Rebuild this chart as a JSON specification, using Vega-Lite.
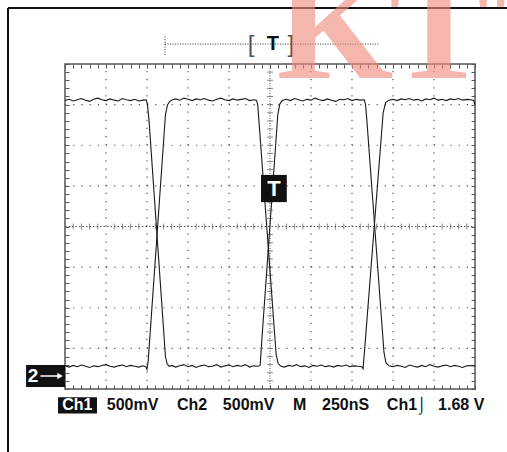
{
  "$schema": "https://vega.github.io/schema/vega-lite/v6.json",
  "width": 410,
  "height": 325,
  "autosize": {"type": "none"},
  "padding": {"left": 65, "top": 64, "right": 32, "bottom": 63},
  "background": "white",
  "config": {
    "view": {"stroke": "#555", "strokeWidth": 1.5},
    "axis": {"labels": false, "title": null, "domain": false, "grid": false, "ticks": true, "tickColor": "#555", "tickSize": -4, "tickWidth": 1}
  },
  "resolve": {"axis": {"x": "independent", "y": "independent"}},
  "layer": [
    {
      "data": {"values": [{"v": 1}, {"v": 2}, {"v": 3}, {"v": 4}, {"v": 6}, {"v": 7}, {"v": 8}, {"v": 9}]},
      "mark": {"type": "rule", "color": "#555", "strokeWidth": 1.2, "strokeDash": [1.2, 6.925]},
      "encoding": {
        "x": {"field": "v", "type": "quantitative", "scale": {"domain": [0, 10], "nice": false, "zero": false}, "axis": {"orient": "bottom", "tickCount": 50}},
        "y": {"datum": -4, "type": "quantitative", "scale": {"domain": [-4, 4], "nice": false, "zero": false}, "axis": {"orient": "left", "tickCount": 40}},
        "y2": {"datum": 4}
      }
    },
    {
      "data": {"values": [{"v": -3}, {"v": -2}, {"v": -1}, {"v": 1}, {"v": 2}, {"v": 3}]},
      "mark": {"type": "rule", "color": "#555", "strokeWidth": 1.2, "strokeDash": [1.2, 7.0]},
      "encoding": {
        "y": {"field": "v", "type": "quantitative", "scale": {"domain": [-4, 4], "nice": false, "zero": false}, "axis": {"orient": "right", "tickCount": 40}},
        "x": {"datum": 0, "type": "quantitative", "scale": {"domain": [0, 10], "nice": false, "zero": false}, "axis": {"orient": "top", "tickCount": 50}},
        "x2": {"datum": 10}
      }
    },
    {
      "data": {"values": [{"v": 5}]},
      "mark": {"type": "rule", "color": "#555", "strokeWidth": 1, "strokeDash": [1, 1.5]},
      "encoding": {
        "x": {"field": "v", "type": "quantitative", "scale": {"domain": [0, 10], "nice": false, "zero": false}, "axis": null},
        "y": {"datum": -4, "type": "quantitative", "scale": {"domain": [-4, 4], "nice": false, "zero": false}, "axis": null},
        "y2": {"datum": 4}
      }
    },
    {
      "data": {"values": [{"v": 0}]},
      "mark": {"type": "rule", "color": "#555", "strokeWidth": 1, "strokeDash": [1.5, 2]},
      "encoding": {
        "y": {"field": "v", "type": "quantitative", "scale": {"domain": [-4, 4], "nice": false, "zero": false}, "axis": null},
        "x": {"datum": 0, "type": "quantitative", "scale": {"domain": [0, 10], "nice": false, "zero": false}, "axis": null},
        "x2": {"datum": 10}
      }
    },
    {
      "data": {"values": [{"v": -3.8}, {"v": -3.6}, {"v": -3.4}, {"v": -3.2}, {"v": -3.0}, {"v": -2.8}, {"v": -2.6}, {"v": -2.4}, {"v": -2.2}, {"v": -2.0}, {"v": -1.8}, {"v": -1.6}, {"v": -1.4}, {"v": -1.2}, {"v": -1.0}, {"v": -0.8}, {"v": -0.6}, {"v": -0.4}, {"v": -0.2}, {"v": 0.2}, {"v": 0.4}, {"v": 0.6}, {"v": 0.8}, {"v": 1.0}, {"v": 1.2}, {"v": 1.4}, {"v": 1.6}, {"v": 1.8}, {"v": 2.0}, {"v": 2.2}, {"v": 2.4}, {"v": 2.6}, {"v": 2.8}, {"v": 3.0}, {"v": 3.2}, {"v": 3.4}, {"v": 3.6}, {"v": 3.8}]},
      "mark": {"type": "tick", "orient": "horizontal", "size": 6, "thickness": 1, "color": "#555"},
      "encoding": {
        "y": {"field": "v", "type": "quantitative", "scale": {"domain": [-4, 4], "nice": false, "zero": false}, "axis": null},
        "x": {"datum": 5, "type": "quantitative", "scale": {"domain": [0, 10], "nice": false, "zero": false}, "axis": null}
      }
    },
    {
      "data": {"values": [{"v": 0.2}, {"v": 0.4}, {"v": 0.6}, {"v": 0.8}, {"v": 1.2}, {"v": 1.4}, {"v": 1.6}, {"v": 1.8}, {"v": 2.2}, {"v": 2.4}, {"v": 2.6}, {"v": 2.8}, {"v": 3.2}, {"v": 3.4}, {"v": 3.6}, {"v": 3.8}, {"v": 4.2}, {"v": 4.4}, {"v": 4.6}, {"v": 4.8}, {"v": 5.2}, {"v": 5.4}, {"v": 5.6}, {"v": 5.8}, {"v": 6.2}, {"v": 6.4}, {"v": 6.6}, {"v": 6.8}, {"v": 7.2}, {"v": 7.4}, {"v": 7.6}, {"v": 7.8}, {"v": 8.2}, {"v": 8.4}, {"v": 8.6}, {"v": 8.8}, {"v": 9.2}, {"v": 9.4}, {"v": 9.6}, {"v": 9.8}]},
      "mark": {"type": "tick", "orient": "vertical", "size": 6, "thickness": 1, "color": "#555"},
      "encoding": {
        "x": {"field": "v", "type": "quantitative", "scale": {"domain": [0, 10], "nice": false, "zero": false}, "axis": null},
        "y": {"datum": 0, "type": "quantitative", "scale": {"domain": [-4, 4], "nice": false, "zero": false}, "axis": null}
      }
    },
    {
      "data": {"values": [
        {"s": "a", "x": 0.0, "y": 3.10}, {"s": "a", "x": 0.1, "y": 3.13}, {"s": "a", "x": 0.2, "y": 3.09}, {"s": "a", "x": 0.3, "y": 3.12}, {"s": "a", "x": 0.4, "y": 3.15}, {"s": "a", "x": 0.5, "y": 3.11}, {"s": "a", "x": 0.6, "y": 3.08}, {"s": "a", "x": 0.7, "y": 3.13}, {"s": "a", "x": 0.8, "y": 3.16}, {"s": "a", "x": 0.9, "y": 3.12}, {"s": "a", "x": 1.0, "y": 3.10}, {"s": "a", "x": 1.1, "y": 3.14}, {"s": "a", "x": 1.2, "y": 3.11}, {"s": "a", "x": 1.3, "y": 3.09}, {"s": "a", "x": 1.4, "y": 3.15}, {"s": "a", "x": 1.5, "y": 3.12}, {"s": "a", "x": 1.6, "y": 3.10}, {"s": "a", "x": 1.7, "y": 3.13}, {"s": "a", "x": 1.8, "y": 3.09}, {"s": "a", "x": 1.9, "y": 3.11}, {"s": "a", "x": 1.98, "y": 3.12},
        {"s": "a", "x": 2.01, "y": 3.02}, {"s": "a", "x": 2.05, "y": 2.6}, {"s": "a", "x": 2.45, "y": -3.2}, {"s": "a", "x": 2.49, "y": -3.38}, {"s": "a", "x": 2.54, "y": -3.44},
        {"s": "a", "x": 2.6, "y": -3.42}, {"s": "a", "x": 2.7, "y": -3.46}, {"s": "a", "x": 2.8, "y": -3.43}, {"s": "a", "x": 2.9, "y": -3.40}, {"s": "a", "x": 3.0, "y": -3.45}, {"s": "a", "x": 3.1, "y": -3.42}, {"s": "a", "x": 3.2, "y": -3.47}, {"s": "a", "x": 3.3, "y": -3.43}, {"s": "a", "x": 3.4, "y": -3.41}, {"s": "a", "x": 3.5, "y": -3.45}, {"s": "a", "x": 3.6, "y": -3.44}, {"s": "a", "x": 3.7, "y": -3.40}, {"s": "a", "x": 3.8, "y": -3.46}, {"s": "a", "x": 3.9, "y": -3.43}, {"s": "a", "x": 4.0, "y": -3.41}, {"s": "a", "x": 4.1, "y": -3.45}, {"s": "a", "x": 4.2, "y": -3.42}, {"s": "a", "x": 4.3, "y": -3.44}, {"s": "a", "x": 4.4, "y": -3.40}, {"s": "a", "x": 4.5, "y": -3.46}, {"s": "a", "x": 4.6, "y": -3.43}, {"s": "a", "x": 4.7, "y": -3.44},
        {"s": "a", "x": 4.76, "y": -3.42}, {"s": "a", "x": 4.79, "y": -2.95}, {"s": "a", "x": 5.19, "y": 2.75}, {"s": "a", "x": 5.24, "y": 3.02}, {"s": "a", "x": 5.3, "y": 3.10},
        {"s": "a", "x": 5.4, "y": 3.13}, {"s": "a", "x": 5.5, "y": 3.10}, {"s": "a", "x": 5.6, "y": 3.15}, {"s": "a", "x": 5.7, "y": 3.12}, {"s": "a", "x": 5.8, "y": 3.09}, {"s": "a", "x": 5.9, "y": 3.13}, {"s": "a", "x": 6.0, "y": 3.11}, {"s": "a", "x": 6.1, "y": 3.16}, {"s": "a", "x": 6.2, "y": 3.12}, {"s": "a", "x": 6.3, "y": 3.10}, {"s": "a", "x": 6.4, "y": 3.14}, {"s": "a", "x": 6.5, "y": 3.11}, {"s": "a", "x": 6.6, "y": 3.08}, {"s": "a", "x": 6.7, "y": 3.13}, {"s": "a", "x": 6.8, "y": 3.12}, {"s": "a", "x": 6.9, "y": 3.15}, {"s": "a", "x": 7.0, "y": 3.10}, {"s": "a", "x": 7.1, "y": 3.13}, {"s": "a", "x": 7.2, "y": 3.11}, {"s": "a", "x": 7.3, "y": 3.12},
        {"s": "a", "x": 7.33, "y": 3.0}, {"s": "a", "x": 7.36, "y": 2.65}, {"s": "a", "x": 7.78, "y": -3.1}, {"s": "a", "x": 7.83, "y": -3.36}, {"s": "a", "x": 7.9, "y": -3.43},
        {"s": "a", "x": 8.0, "y": -3.45}, {"s": "a", "x": 8.1, "y": -3.42}, {"s": "a", "x": 8.2, "y": -3.44}, {"s": "a", "x": 8.3, "y": -3.47}, {"s": "a", "x": 8.4, "y": -3.41}, {"s": "a", "x": 8.5, "y": -3.44}, {"s": "a", "x": 8.6, "y": -3.46}, {"s": "a", "x": 8.7, "y": -3.42}, {"s": "a", "x": 8.8, "y": -3.45}, {"s": "a", "x": 8.9, "y": -3.40}, {"s": "a", "x": 9.0, "y": -3.44}, {"s": "a", "x": 9.1, "y": -3.46}, {"s": "a", "x": 9.2, "y": -3.43}, {"s": "a", "x": 9.3, "y": -3.41}, {"s": "a", "x": 9.4, "y": -3.45}, {"s": "a", "x": 9.5, "y": -3.42}, {"s": "a", "x": 9.6, "y": -3.44}, {"s": "a", "x": 9.7, "y": -3.47}, {"s": "a", "x": 9.8, "y": -3.43}, {"s": "a", "x": 9.9, "y": -3.42}, {"s": "a", "x": 10.0, "y": -3.44},
        {"s": "b", "x": 0.0, "y": -3.43}, {"s": "b", "x": 0.1, "y": -3.46}, {"s": "b", "x": 0.2, "y": -3.42}, {"s": "b", "x": 0.3, "y": -3.45}, {"s": "b", "x": 0.4, "y": -3.41}, {"s": "b", "x": 0.5, "y": -3.44}, {"s": "b", "x": 0.6, "y": -3.47}, {"s": "b", "x": 0.7, "y": -3.43}, {"s": "b", "x": 0.8, "y": -3.45}, {"s": "b", "x": 0.9, "y": -3.42}, {"s": "b", "x": 1.0, "y": -3.40}, {"s": "b", "x": 1.1, "y": -3.44}, {"s": "b", "x": 1.2, "y": -3.46}, {"s": "b", "x": 1.3, "y": -3.43}, {"s": "b", "x": 1.4, "y": -3.41}, {"s": "b", "x": 1.5, "y": -3.45}, {"s": "b", "x": 1.6, "y": -3.42}, {"s": "b", "x": 1.7, "y": -3.44}, {"s": "b", "x": 1.8, "y": -3.46}, {"s": "b", "x": 1.9, "y": -3.43}, {"s": "b", "x": 1.97, "y": -3.45},
        {"s": "b", "x": 2.0, "y": -3.52}, {"s": "b", "x": 2.03, "y": -3.3}, {"s": "b", "x": 2.45, "y": 2.75}, {"s": "b", "x": 2.5, "y": 3.0}, {"s": "b", "x": 2.56, "y": 3.08}, {"s": "b", "x": 2.62, "y": 3.12},
        {"s": "b", "x": 2.7, "y": 3.14}, {"s": "b", "x": 2.8, "y": 3.11}, {"s": "b", "x": 2.9, "y": 3.16}, {"s": "b", "x": 3.0, "y": 3.13}, {"s": "b", "x": 3.1, "y": 3.10}, {"s": "b", "x": 3.2, "y": 3.14}, {"s": "b", "x": 3.3, "y": 3.12}, {"s": "b", "x": 3.4, "y": 3.15}, {"s": "b", "x": 3.5, "y": 3.11}, {"s": "b", "x": 3.6, "y": 3.09}, {"s": "b", "x": 3.7, "y": 3.13}, {"s": "b", "x": 3.8, "y": 3.16}, {"s": "b", "x": 3.9, "y": 3.12}, {"s": "b", "x": 4.0, "y": 3.10}, {"s": "b", "x": 4.1, "y": 3.14}, {"s": "b", "x": 4.2, "y": 3.11}, {"s": "b", "x": 4.3, "y": 3.13}, {"s": "b", "x": 4.4, "y": 3.15}, {"s": "b", "x": 4.5, "y": 3.10}, {"s": "b", "x": 4.6, "y": 3.12}, {"s": "b", "x": 4.67, "y": 3.11},
        {"s": "b", "x": 4.7, "y": 3.0}, {"s": "b", "x": 4.73, "y": 2.6}, {"s": "b", "x": 5.15, "y": -3.15}, {"s": "b", "x": 5.2, "y": -3.38}, {"s": "b", "x": 5.27, "y": -3.44},
        {"s": "b", "x": 5.35, "y": -3.46}, {"s": "b", "x": 5.45, "y": -3.42}, {"s": "b", "x": 5.55, "y": -3.44}, {"s": "b", "x": 5.65, "y": -3.40}, {"s": "b", "x": 5.75, "y": -3.45}, {"s": "b", "x": 5.85, "y": -3.43}, {"s": "b", "x": 5.95, "y": -3.47}, {"s": "b", "x": 6.05, "y": -3.42}, {"s": "b", "x": 6.15, "y": -3.44}, {"s": "b", "x": 6.25, "y": -3.41}, {"s": "b", "x": 6.35, "y": -3.45}, {"s": "b", "x": 6.45, "y": -3.43}, {"s": "b", "x": 6.55, "y": -3.46}, {"s": "b", "x": 6.65, "y": -3.42}, {"s": "b", "x": 6.75, "y": -3.44}, {"s": "b", "x": 6.85, "y": -3.41}, {"s": "b", "x": 6.95, "y": -3.45}, {"s": "b", "x": 7.05, "y": -3.43}, {"s": "b", "x": 7.15, "y": -3.44}, {"s": "b", "x": 7.24, "y": -3.45},
        {"s": "b", "x": 7.27, "y": -3.5}, {"s": "b", "x": 7.31, "y": -3.0}, {"s": "b", "x": 7.76, "y": 2.8}, {"s": "b", "x": 7.82, "y": 3.05}, {"s": "b", "x": 7.9, "y": 3.11},
        {"s": "b", "x": 8.0, "y": 3.13}, {"s": "b", "x": 8.1, "y": 3.10}, {"s": "b", "x": 8.2, "y": 3.14}, {"s": "b", "x": 8.3, "y": 3.12}, {"s": "b", "x": 8.4, "y": 3.15}, {"s": "b", "x": 8.5, "y": 3.11}, {"s": "b", "x": 8.6, "y": 3.13}, {"s": "b", "x": 8.7, "y": 3.09}, {"s": "b", "x": 8.8, "y": 3.14}, {"s": "b", "x": 8.9, "y": 3.12}, {"s": "b", "x": 9.0, "y": 3.16}, {"s": "b", "x": 9.1, "y": 3.11}, {"s": "b", "x": 9.2, "y": 3.13}, {"s": "b", "x": 9.3, "y": 3.10}, {"s": "b", "x": 9.4, "y": 3.14}, {"s": "b", "x": 9.5, "y": 3.12}, {"s": "b", "x": 9.6, "y": 3.15}, {"s": "b", "x": 9.7, "y": 3.11}, {"s": "b", "x": 9.8, "y": 3.13}, {"s": "b", "x": 9.9, "y": 3.12}, {"s": "b", "x": 9.97, "y": 3.10}, {"s": "b", "x": 10.0, "y": 3.0}
      ]},
      "mark": {"type": "line", "color": "#1a1a1a", "strokeWidth": 1.1},
      "encoding": {
        "x": {"field": "x", "type": "quantitative", "scale": {"domain": [0, 10], "nice": false, "zero": false}, "axis": null},
        "y": {"field": "y", "type": "quantitative", "scale": {"domain": [-4, 4], "nice": false, "zero": false}, "axis": null},
        "detail": {"field": "s"}
      }
    },
    {
      "data": {"values": [{"x": -1.39, "y": 5.38, "x2": -1.39, "y2": -5.8}, {"x": -1.39, "y": 5.38, "x2": 10.9, "y2": 5.38}]},
      "mark": {"type": "rule", "color": "#111", "strokeWidth": 2},
      "encoding": {
        "x": {"field": "x", "type": "quantitative", "scale": {"domain": [0, 10], "nice": false, "zero": false}, "axis": null},
        "y": {"field": "y", "type": "quantitative", "scale": {"domain": [-4, 4], "nice": false, "zero": false}, "axis": null},
        "x2": {"field": "x2"},
        "y2": {"field": "y2"}
      }
    },
    {
      "data": {"values": [{"x": 2.44, "y": 4.49, "x2": 7.68, "y2": 4.49}, {"x": 2.44, "y": 4.22, "x2": 2.44, "y2": 4.72}]},
      "mark": {"type": "rule", "color": "#333", "strokeWidth": 1, "strokeDash": [1, 1.5]},
      "encoding": {
        "x": {"field": "x", "type": "quantitative", "scale": {"domain": [0, 10], "nice": false, "zero": false}, "axis": null},
        "y": {"field": "y", "type": "quantitative", "scale": {"domain": [-4, 4], "nice": false, "zero": false}, "axis": null},
        "x2": {"field": "x2"},
        "y2": {"field": "y2"}
      }
    },
    {
      "data": {"values": [{"t": "[", "x": 4.54, "y": 4.49}, {"t": "]", "x": 5.51, "y": 4.49}]},
      "mark": {"type": "text", "font": "Liberation Sans", "fontSize": 24, "color": "#555", "align": "center", "baseline": "middle", "dy": 1},
      "encoding": {
        "x": {"field": "x", "type": "quantitative", "scale": {"domain": [0, 10], "nice": false, "zero": false}, "axis": null},
        "y": {"field": "y", "type": "quantitative", "scale": {"domain": [-4, 4], "nice": false, "zero": false}, "axis": null},
        "text": {"field": "t"}
      }
    },
    {
      "data": {"values": [{"t": "T", "x": 5.07, "y": 4.49}]},
      "mark": {"type": "text", "font": "Liberation Sans", "fontSize": 20, "fontWeight": "bold", "color": "#111", "align": "center", "baseline": "middle"},
      "encoding": {
        "x": {"field": "x", "type": "quantitative", "scale": {"domain": [0, 10], "nice": false, "zero": false}, "axis": null},
        "y": {"field": "y", "type": "quantitative", "scale": {"domain": [-4, 4], "nice": false, "zero": false}, "axis": null},
        "text": {"field": "t"}
      }
    },
    {
      "data": {"values": [{"x": 4.78, "x2": 5.41, "y": 1.27, "y2": 0.6}, {"x": -0.95, "x2": 0, "y": -3.41, "y2": -3.95}, {"x": -0.17, "x2": 0.78, "y": -4.2, "y2": -4.6}]},
      "mark": {"type": "rect", "color": "#111"},
      "encoding": {
        "x": {"field": "x", "type": "quantitative", "scale": {"domain": [0, 10], "nice": false, "zero": false}, "axis": null},
        "y": {"field": "y", "type": "quantitative", "scale": {"domain": [-4, 4], "nice": false, "zero": false}, "axis": null},
        "x2": {"field": "x2"},
        "y2": {"field": "y2"}
      }
    },
    {
      "data": {"values": [{"t": "T", "x": 5.095, "y": 0.935}]},
      "mark": {"type": "text", "font": "Liberation Sans", "fontSize": 22, "fontWeight": "bold", "color": "white", "align": "center", "baseline": "middle"},
      "encoding": {
        "x": {"field": "x", "type": "quantitative", "scale": {"domain": [0, 10], "nice": false, "zero": false}, "axis": null},
        "y": {"field": "y", "type": "quantitative", "scale": {"domain": [-4, 4], "nice": false, "zero": false}, "axis": null},
        "text": {"field": "t"}
      }
    },
    {
      "data": {"values": [{"t": "2", "x": -0.78, "y": -3.68}]},
      "mark": {"type": "text", "font": "Liberation Sans", "fontSize": 19, "fontWeight": "bold", "color": "white", "align": "center", "baseline": "middle"},
      "encoding": {
        "x": {"field": "x", "type": "quantitative", "scale": {"domain": [0, 10], "nice": false, "zero": false}, "axis": null},
        "y": {"field": "y", "type": "quantitative", "scale": {"domain": [-4, 4], "nice": false, "zero": false}, "axis": null},
        "text": {"field": "t"}
      }
    },
    {
      "data": {"values": [{"x": -0.6, "x2": -0.15, "y": -3.68}]},
      "mark": {"type": "rule", "color": "white", "strokeWidth": 1.5},
      "encoding": {
        "x": {"field": "x", "type": "quantitative", "scale": {"domain": [0, 10], "nice": false, "zero": false}, "axis": null},
        "y": {"field": "y", "type": "quantitative", "scale": {"domain": [-4, 4], "nice": false, "zero": false}, "axis": null},
        "x2": {"field": "x2"}
      }
    },
    {
      "data": {"values": [{"x": -0.12, "y": -3.68}]},
      "mark": {"type": "point", "shape": "triangle-right", "filled": true, "color": "white", "size": 40, "opacity": 1},
      "encoding": {
        "x": {"field": "x", "type": "quantitative", "scale": {"domain": [0, 10], "nice": false, "zero": false}, "axis": null},
        "y": {"field": "y", "type": "quantitative", "scale": {"domain": [-4, 4], "nice": false, "zero": false}, "axis": null}
      }
    },
    {
      "data": {"values": [{"t": "Ch1", "x": -0.07, "y": -4.517}]},
      "mark": {"type": "text", "font": "Liberation Sans", "fontSize": 16, "fontWeight": "bold", "color": "white", "align": "left", "baseline": "alphabetic"},
      "encoding": {
        "x": {"field": "x", "type": "quantitative", "scale": {"domain": [0, 10], "nice": false, "zero": false}, "axis": null},
        "y": {"field": "y", "type": "quantitative", "scale": {"domain": [-4, 4], "nice": false, "zero": false}, "axis": null},
        "text": {"field": "t"}
      }
    },
    {
      "data": {"values": [{"t": "500mV", "x": 1.02, "y": -4.517}, {"t": "Ch2", "x": 2.73, "y": -4.517}, {"t": "500mV", "x": 3.85, "y": -4.517}, {"t": "M", "x": 5.56, "y": -4.517}, {"t": "250nS", "x": 6.27, "y": -4.517}, {"t": "Ch1⌡", "x": 7.85, "y": -4.517}, {"t": "1.68 V", "x": 9.1, "y": -4.517}]},
      "mark": {"type": "text", "font": "Liberation Sans", "fontSize": 16, "fontWeight": "bold", "color": "#111", "align": "left", "baseline": "alphabetic"},
      "encoding": {
        "x": {"field": "x", "type": "quantitative", "scale": {"domain": [0, 10], "nice": false, "zero": false}, "axis": null},
        "y": {"field": "y", "type": "quantitative", "scale": {"domain": [-4, 4], "nice": false, "zero": false}, "axis": null},
        "text": {"field": "t"}
      }
    },
    {
      "data": {"values": [{"t": "K", "x": 6.585, "y": 3.655}, {"t": "T", "x": 9.12, "y": 3.655}, {"t": "T", "x": 11.7, "y": 3.655}]},
      "mark": {"type": "text", "font": "Liberation Serif", "fontSize": 150, "fontWeight": "bold", "color": "#f08a7e", "opacity": 0.62, "align": "center", "baseline": "alphabetic"},
      "encoding": {
        "x": {"field": "x", "type": "quantitative", "scale": {"domain": [0, 10], "nice": false, "zero": false}, "axis": null},
        "y": {"field": "y", "type": "quantitative", "scale": {"domain": [-4, 4], "nice": false, "zero": false}, "axis": null},
        "text": {"field": "t"}
      }
    }
  ]
}
